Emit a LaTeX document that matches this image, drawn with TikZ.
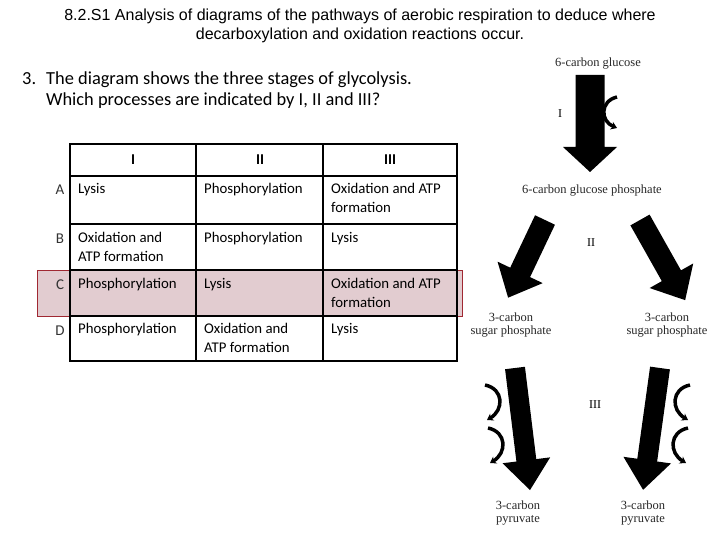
\documentclass[tikz,border=0pt]{standalone}
\usepackage{fontspec}
\setmainfont{Liberation Sans}
\newfontfamily\calfnt{Carlito}
\newfontfamily\tms{Liberation Serif}
\usetikzlibrary{arrows.meta}
\definecolor{hl}{RGB}{226,204,208}
\definecolor{hlb}{RGB}{160,40,50}
\newcommand{\blockarr}[7]{% x y angle L w H h
 \begin{scope}[shift={(#1,#2)},rotate=#3]
 \fill[black] (0,-#5/2) -- (#4-#7,-#5/2) -- (#4-#7,-#6/2) -- (#4,0) -- (#4-#7,#6/2) -- (#4-#7,#5/2) -- (0,#5/2) -- cycle;
 \end{scope}}
\begin{document}
\begin{tikzpicture}[x=1pt,y=-1pt,
 cell/.style={anchor=north west,font=\calfnt\fontsize{14.8}{19}\selectfont,align=left,inner sep=0pt},
 lbl/.style={font=\tms\fontsize{12.5}{13.5}\selectfont,align=center,inner sep=0pt,text=black!85},
 rom/.style={font=\tms\fontsize{12}{13}\selectfont,inner sep=0pt},
 curv/.style={line width=3.5pt,-{Stealth[length=6pt,width=8pt]}}]
\useasboundingbox (0,0) rectangle (720,540);
\node[font=\fontsize{16}{19}\selectfont,align=center] (title) at (360,26) {8.2.S1 Analysis of diagrams of the pathways of aerobic respiration to deduce where\\decarboxylation and oxidation reactions occur.};
\node[anchor=west,font=\calfnt\fontsize{18.4}{21}\selectfont,inner sep=0pt] (num) at (22,79) {3.};
\node[anchor=west,font=\calfnt\fontsize{18.4}{21}\selectfont,align=left,inner sep=0pt] (q) at (46,90) {The diagram shows the three stages of glycolysis.\\Which processes are indicated by I, II and III?};
% highlight
\fill[hl] (37,270) rectangle (462,316);
\draw[hlb,line width=0.8pt] (37,270) rectangle (462,316);
% table
\draw[line width=1.2pt] (70,144) rectangle (457,361);
\foreach \x in {196,323} \draw[line width=1.2pt] (\x,144) -- (\x,361);
\foreach \y in {176,224,270,316} \draw[line width=1.2pt] (70,\y) -- (457,\y);
\node[font=\calfnt\bfseries\fontsize{15}{16}\selectfont] (h1) at (133,160) {I};
\node[font=\calfnt\bfseries\fontsize{15}{16}\selectfont] (h2) at (260,160) {II};
\node[font=\calfnt\bfseries\fontsize{15}{16}\selectfont] (h3) at (390,160) {III};
\foreach \l/\y in {A/190,B/239,C/285,D/331}
 \node[font=\calfnt\fontsize{15}{16}\selectfont,text=black!80] (r\l) at (60,\y) {\l};
\node[cell] (a1) at (78,183) {Lysis};
\node[cell] (a2) at (204,183) {Phosphorylation};
\node[cell] (a3) at (331,183) {Oxidation and ATP\\formation};
\node[cell] (b1) at (78,232) {Oxidation and\\ATP formation};
\node[cell] (b2) at (204,232) {Phosphorylation};
\node[cell] (b3) at (331,232) {Lysis};
\node[cell] (c1) at (78,278) {Phosphorylation};
\node[cell] (c2) at (204,278) {Lysis};
\node[cell] (c3) at (331,278) {Oxidation and ATP\\formation};
\node[cell] (d1) at (78,323) {Phosphorylation};
\node[cell] (d2) at (204,323) {Oxidation and\\ATP formation};
\node[cell] (d3) at (331,323) {Lysis};
% diagram
\node[lbl] (g6) at (598,64) {6-carbon glucose};
\node[lbl] (g6p) at (592,191) {6-carbon glucose phosphate};
\node[lbl] (s1) at (511,325) {3-carbon\\sugar phosphate};
\node[lbl] (s2) at (667,325) {3-carbon\\sugar phosphate};
\node[lbl] (p1) at (518,513) {3-carbon\\pyruvate};
\node[lbl] (p2) at (643,513) {3-carbon\\pyruvate};
\node[rom] (rI) at (560,114) {I};
\node[rom] (rII) at (591,243) {II};
\node[rom] (rIII) at (595,405) {III};
\blockarr{590}{75}{-90}{97}{29}{54}{25}
\blockarr{545}{220}{-115.4}{86}{22}{50}{28}
\blockarr{640}{220}{-60.6}{92}{22}{50}{28}
\blockarr{515}{368}{-83}{123}{20}{48}{30}
\blockarr{660}{368}{-97.9}{123}{20}{48}{30}
\draw[curv] (617,97) .. controls (600,101) and (600,121) .. (617,128);
\draw[curv] (485,385) .. controls (504,389) and (504,410) .. (487,420);
\draw[curv] (488,428) .. controls (507,432) and (507,453) .. (490,463);
\draw[curv] (690,385) .. controls (671,389) and (671,410) .. (688,420);
\draw[curv] (688,428) .. controls (669,432) and (669,453) .. (686,463);
\end{tikzpicture}
\end{document}
